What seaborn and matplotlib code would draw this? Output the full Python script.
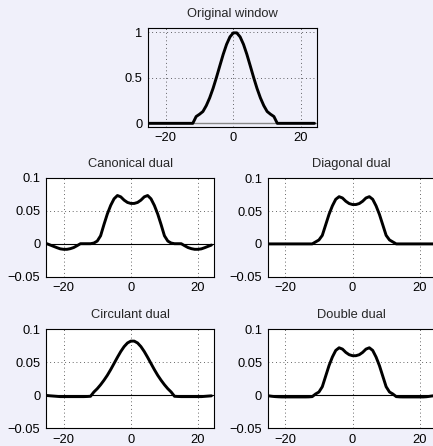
import matplotlib
matplotlib.use("Agg")
import matplotlib.pyplot as plt
import seaborn as sns
import pandas as pd

# ---------------- data ----------------
x = list(range(-25, 25))

original_window = [0.0] * 13 + [
    0.0, 0.075, 0.10, 0.13, 0.195, 0.28, 0.384, 0.504, 0.632, 0.758, 0.868, 0.950, 0.994,
    0.994, 0.950, 0.868, 0.758, 0.632, 0.504, 0.384, 0.28, 0.195, 0.13, 0.10, 0.075, 0.0,
] + [0.0] * 11

canonical_dual = [
    0.0, -0.002, -0.004, -0.006, -0.0078, -0.0085, -0.0085, -0.0075, -0.0058, -0.003,
    0.0, 0.0, 0.0, 0.0, 0.001, 0.004, 0.012, 0.029, 0.045, 0.058, 0.068, 0.073, 0.071,
    0.066, 0.0625, 0.061, 0.061, 0.0625, 0.066, 0.071, 0.073, 0.068, 0.058, 0.045, 0.029,
    0.012, 0.004, 0.001, 0.0, 0.0, 0.0, -0.003, -0.0058, -0.0075, -0.0085, -0.0085,
    -0.0078, -0.006, -0.004, -0.002,
]

diagonal_dual = [0.0] * 13 + [
    0.0, 0.003, 0.006, 0.013, 0.029, 0.045, 0.058, 0.068, 0.072, 0.070, 0.065, 0.0615, 0.060,
    0.060, 0.0615, 0.065, 0.070, 0.072, 0.068, 0.058, 0.045, 0.029, 0.013, 0.006, 0.003, 0.0,
] + [0.0] * 11

circulant_dual = [
    -0.0003, -0.0008, -0.0012, -0.0016, -0.002, -0.002, -0.002, -0.002, -0.002, -0.002,
    -0.002, -0.002, -0.0018, -0.0015, 0.005, 0.010, 0.016, 0.0228, 0.0303, 0.0389, 0.0482,
    0.0575, 0.0663, 0.0738, 0.0793, 0.0821, 0.0821, 0.0793, 0.0738, 0.0663, 0.0575, 0.0482,
    0.0389, 0.0303, 0.0228, 0.016, 0.010, 0.005, -0.0015, -0.0018, -0.002, -0.002, -0.002,
    -0.002, -0.002, -0.002, -0.002, -0.0016, -0.0012, -0.0008,
]

double_dual = [
    -0.0008, -0.0015, -0.002, -0.0023, -0.0025, -0.0025, -0.0025, -0.0025, -0.0025, -0.0025,
    -0.0025, -0.0025, -0.0024, -0.002, 0.002, 0.005, 0.013, 0.029, 0.045, 0.058, 0.068,
    0.072, 0.070, 0.065, 0.0615, 0.060, 0.060, 0.0615, 0.065, 0.070, 0.072, 0.068, 0.058,
    0.045, 0.029, 0.013, 0.005, 0.002, -0.002, -0.0024, -0.0025, -0.0025, -0.0025, -0.0025,
    -0.0025, -0.0025, -0.0025, -0.0022, -0.0015, -0.0008,
]

titles = ["Original window", "Canonical dual", "Diagonal dual", "Circulant dual", "Double dual"]
series = [original_window, canonical_dual, diagonal_dual, circulant_dual, double_dual]
x_ticks = [-20, 0, 20]
x_labels = ["\u221220", "0", "20"]
top_y_ticks = [0, 0.5, 1]
top_y_labels = ["0", "0.5", "1"]
dual_y_ticks = [-0.05, 0, 0.05, 0.1]
dual_y_labels = ["\u22120.05", "0", "0.05", "0.1"]

# ---------------- styling ----------------
sns.set_style("ticks")
plt.rcParams['font.family'] = ['Liberation Sans', 'DejaVu Sans']

BG = "#f0f0fa"
W, H = 433, 446
fig = plt.figure(figsize=(W / 100, H / 100), dpi=100, facecolor=BG)


def ax_px(l, t, w, h):
    return fig.add_axes([l / W, 1 - (t + h) / H, w / W, h / H])


boxes = [
    (148, 28.3, 169, 98.4),
    (46, 177.7, 168, 99),
    (267.7, 178.3, 168, 98.4),
    (46, 329.3, 168, 99),
    (267.7, 329.3, 168, 99),
]

FS = 9.3
for i, (box, title, yv) in enumerate(zip(boxes, titles, series)):
    ax = ax_px(*box)
    df = pd.DataFrame({"x": x, "y": yv})
    if i == 0:
        ax.set_facecolor(BG)
        ax.axhline(0, color="#888888", lw=1.0, zorder=1)
    else:
        ax.set_facecolor("white")
        ax.axhline(0, color="black", lw=0.8, zorder=1)
    sns.lineplot(data=df, x="x", y="y", ax=ax, color="black", lw=2.1, zorder=3)
    ax.set_xlim(-25.25, 24.75)
    ax.set_xticks(x_ticks)
    ax.set_xticklabels(x_labels)
    if i == 0:
        ax.set_ylim(-0.037, 1.044)
        ax.set_yticks(top_y_ticks)
        ax.set_yticklabels(top_y_labels)
    else:
        ax.set_ylim(-0.05, 0.1)
        ax.set_yticks(dual_y_ticks)
        ax.set_yticklabels(dual_y_labels)
    ax.set_xlabel("")
    ax.set_ylabel("")
    ax.grid(True, linestyle=(0, (1, 3.5)), color="black", lw=0.6, alpha=0.8)
    ax.tick_params(direction="in", length=0, labelsize=FS, pad=4,
                   colors="black")
    for s in ax.spines.values():
        s.set_color("black")
        s.set_linewidth(0.8)
    ax.set_title(title, fontsize=FS, pad=8)

fig.savefig("out.png", dpi=100, facecolor=BG)
